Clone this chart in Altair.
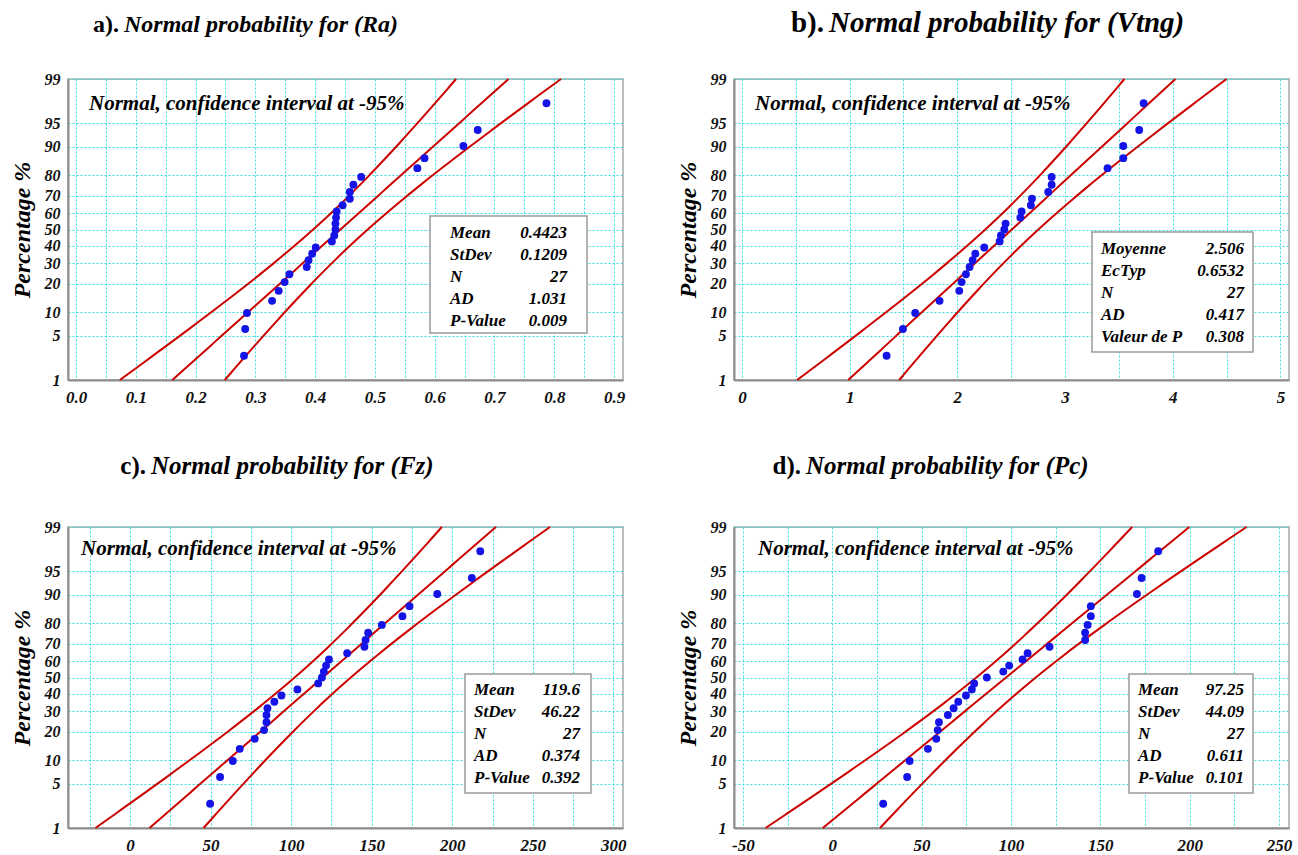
import math
from statistics import NormalDist

import altair as alt
import pandas as pd

ND = NormalDist()
FONT = "Liberation Serif"

# plotting positions (%) of the 27 ranked observations
PCT = [2.55, 6.20, 9.85, 13.50, 17.15, 20.80, 24.45, 28.10, 31.75, 35.40,
       39.05, 42.70, 46.35, 50.00, 53.65, 57.30, 60.95, 64.60, 68.25, 71.90,
       75.55, 79.20, 82.85, 86.50, 90.15, 93.80, 97.45]

RA = [0.281, 0.283, 0.286, 0.328, 0.339, 0.349, 0.357, 0.386, 0.389, 0.395,
      0.401, 0.428, 0.432, 0.434, 0.434, 0.435, 0.436, 0.446, 0.458, 0.458,
      0.464, 0.477, 0.571, 0.583, 0.648, 0.672, 0.787]
VTNG = [1.343, 1.495, 1.609, 1.835, 2.018, 2.040, 2.080, 2.114, 2.142, 2.167,
        2.250, 2.393, 2.405, 2.436, 2.448, 2.585, 2.597, 2.683, 2.693, 2.844,
        2.876, 2.876, 3.395, 3.541, 3.541, 3.689, 3.730]
FZ = [49.7, 55.9, 63.8, 68.1, 77.4, 83.2, 84.7, 84.7, 85.3, 89.6,
      94.0, 103.9, 116.8, 119.1, 120.3, 121.7, 123.5, 134.8, 145.5, 146.2,
      147.8, 156.3, 169.1, 173.5, 190.7, 212.2, 217.4]
PC = [28.5, 41.9, 43.3, 53.5, 58.2, 59.0, 59.7, 64.7, 67.9, 70.5,
      74.8, 78.1, 79.4, 86.5, 95.7, 99.0, 106.5, 109.3, 121.6, 141.5,
      141.5, 142.9, 144.7, 144.7, 170.5, 173.1, 182.4]

Y_TICKS = [1, 5, 10, 20, 30, 40, 50, 60, 70, 80, 90, 95, 99]

LABELS_EN = ["Mean", "StDev", "N", "AD", "P-Value"]
LABELS_FR = ["Moyenne", "EcTyp", "N", "AD", "Valeur de P"]

PANELS = [
    dict(prefix="a).", title="Normal probability for (Ra)", vals=RA,
         mean=0.4423, sd=0.1209, n=27, labels=LABELS_EN,
         stats=["0.4423", "0.1209", "27", "1.031", "0.009"],
         xdom=[-0.0134, 0.915], grid=[round(k * 0.05, 2) for k in range(19)],
         lab="(abs(datum.value*10 - round(datum.value*10)) < 0.001) ? format(datum.value, '.1f') : ''",
         tfs=24, tx=56, ty=-47, ann=(21, 25),
         box=(362, 519, 137, 254), lx=382, vx=499, ry=159),
    dict(prefix="b).", title="Normal probability for (Vtng)", vals=VTNG,
         mean=2.506, sd=0.6532, n=27, labels=LABELS_FR,
         stats=["2.506", "0.6532", "27", "0.417", "0.308"],
         xdom=[-0.074, 5.08], grid=[k * 0.5 for k in range(11)],
         lab="(abs(datum.value - round(datum.value)) < 0.001) ? format(datum.value, 'd') : ''",
         tfs=29, tx=95, ty=-47, ann=(21, 25),
         box=(358, 519, 153, 273), lx=367, vx=510, ry=175),
    dict(prefix="c).", title="Normal probability for (Fz)", vals=FZ,
         mean=119.6, sd=46.22, n=27, labels=LABELS_EN,
         stats=["119.6", "46.22", "27", "0.374", "0.392"],
         xdom=[-38.5, 306.0], grid=list(range(-25, 301, 25)),
         lab="(abs(datum.value/50 - round(datum.value/50)) < 0.001) ? toString(datum.value) : ''",
         tfs=25, tx=83, ty=-53, ann=(13, 22),
         box=(397, 523, 147, 266), lx=406, vx=512, ry=168),
    dict(prefix="d).", title="Normal probability for (Pc)", vals=PC,
         mean=97.25, sd=44.09, n=27, labels=LABELS_EN,
         stats=["97.25", "44.09", "27", "0.611", "0.101"],
         xdom=[-55.0, 255.6], grid=list(range(-50, 251, 25)),
         lab="(abs(datum.value/50 - round(datum.value/50)) < 0.001) ? toString(datum.value) : ''",
         tfs=25, tx=72, ty=-53, ann=(24, 22),
         box=(395, 519, 147, 266), lx=404, vx=510, ry=168),
]

ZLO, ZHI = ND.inv_cdf(0.01), ND.inv_cdf(0.99)
YZ = [ND.inv_cdf(p / 100) for p in Y_TICKS]
GRID_COLOR = "#33dede"
ONE = alt.Data(values=[{}])


def txt(text, x, y, size, style="italic", weight="bold", align="left",
        baseline="alphabetic", **kw):
    return alt.Chart(ONE).mark_text(
        text=text, align=align, baseline=baseline, font=FONT, fontSize=size,
        fontStyle=style, fontWeight=weight, color="#000000", **kw
    ).encode(x=alt.value(x), y=alt.value(y))


def panel(cfg, first=False):
    pts = pd.DataFrame({"x": cfg["vals"], "z": [ND.inv_cdf(p / 100) for p in PCT]})
    mean, sd, n = cfg["mean"], cfg["sd"], cfg["n"]
    rows = []
    steps = 80
    for k in range(steps + 1):
        z = ZLO + (ZHI - ZLO) * k / steps
        c = mean + z * sd
        h = 1.96 * sd * math.sqrt(1 / n + z * z / (2 * n))
        rows += [{"x": c, "z": z, "s": "fit"},
                 {"x": c - h, "z": z, "s": "lo"},
                 {"x": c + h, "z": z, "s": "hi"}]
    lines = pd.DataFrame(rows)

    xenc = alt.X("x:Q", scale=alt.Scale(domain=cfg["xdom"], nice=False, zero=False),
                 axis=alt.Axis(values=cfg["grid"], tickCount=60, labelExpr=cfg["lab"],
                               title=None,
                               grid=True, gridColor=GRID_COLOR, gridDash=[2, 2],
                               gridWidth=1, tickSize=0, labelPadding=9,
                               labelFont=FONT, labelFontSize=17, labelFontStyle="italic",
                               labelFontWeight="bold", labelColor="#111111",
                               labelOverlap=False, labelFlush=False,
                               domainColor="#8c8c8c", domainWidth=2))
    yenc = alt.Y("z:Q", scale=alt.Scale(domain=[ZLO, ZHI], nice=False, zero=False),
                 axis=alt.Axis(values=YZ, tickCount=60,
                               labelExpr="toString(round(cumulativeNormal(datum.value)*100))",
                               title="Percentage %", titleFont=FONT, titleFontSize=24,
                               titleFontStyle="italic", titleFontWeight="bold",
                               titleColor="#000000", titlePadding=10,
                               grid=True, gridColor=GRID_COLOR, gridDash=[2, 2],
                               gridWidth=1, tickSize=0, labelPadding=8,
                               labelFont=FONT, labelFontSize=16, labelFontStyle="italic",
                               labelFontWeight="bold", labelColor="#111111",
                               labelOverlap=False, labelFlush=False,
                               domainColor="#8c8c8c", domainWidth=2))

    line_layer = alt.Chart(lines).mark_line(color="#cc0000", strokeWidth=2).encode(
        x=xenc, y=yenc, detail="s:N", order="z:Q")
    point_layer = alt.Chart(pts).mark_circle(size=62, color="#1414e6", opacity=1).encode(
        x="x:Q", y="z:Q")

    bx1, bx2, by1, by2 = cfg["box"]
    box = alt.Chart(ONE).mark_rect(fill="white", stroke="#9a9a9a", strokeWidth=1.5).encode(
        x=alt.value(bx1), x2=alt.value(bx2), y=alt.value(by1), y2=alt.value(by2))
    lab_txt = txt(cfg["labels"], cfg["lx"], cfg["ry"], 17, lineHeight=22)
    val_txt = txt(cfg["stats"], cfg["vx"], cfg["ry"], 17, align="right", lineHeight=22)
    ann = txt("Normal, confidence interval at -95%", cfg["ann"][0], cfg["ann"][1], 21,
              baseline="middle")
    t_main = txt(cfg["title"], cfg["tx"], cfg["ty"], cfg["tfs"])
    t_pre = txt(cfg["prefix"], cfg["tx"] - 5, cfg["ty"], cfg["tfs"], style="normal",
                align="right")

    layers = [line_layer, point_layer, ann, box, lab_txt, val_txt, t_main, t_pre]
    if first:
        anchor = alt.Chart(ONE).mark_rule(strokeOpacity=0, strokeWidth=0.01).encode(
            x=alt.value(-67), x2=alt.value(-67), y=alt.value(-78), y2=alt.value(-77))
        layers.append(anchor)
    return alt.layer(*layers).properties(width=555, height=301)


charts = [panel(c, first=(i == 0)) for i, c in enumerate(PANELS)]

chart = alt.concat(*charts, columns=2, spacing={"row": 147, "column": 111},
                   bounds="flush").properties(
    padding={"left": 0, "top": 0, "right": 0, "bottom": 0},
    background="white",
).configure_view(stroke="#a8a8a8", strokeWidth=1.5)

chart.save("out.html", embed_options={"renderer": "svg", "actions": False})
